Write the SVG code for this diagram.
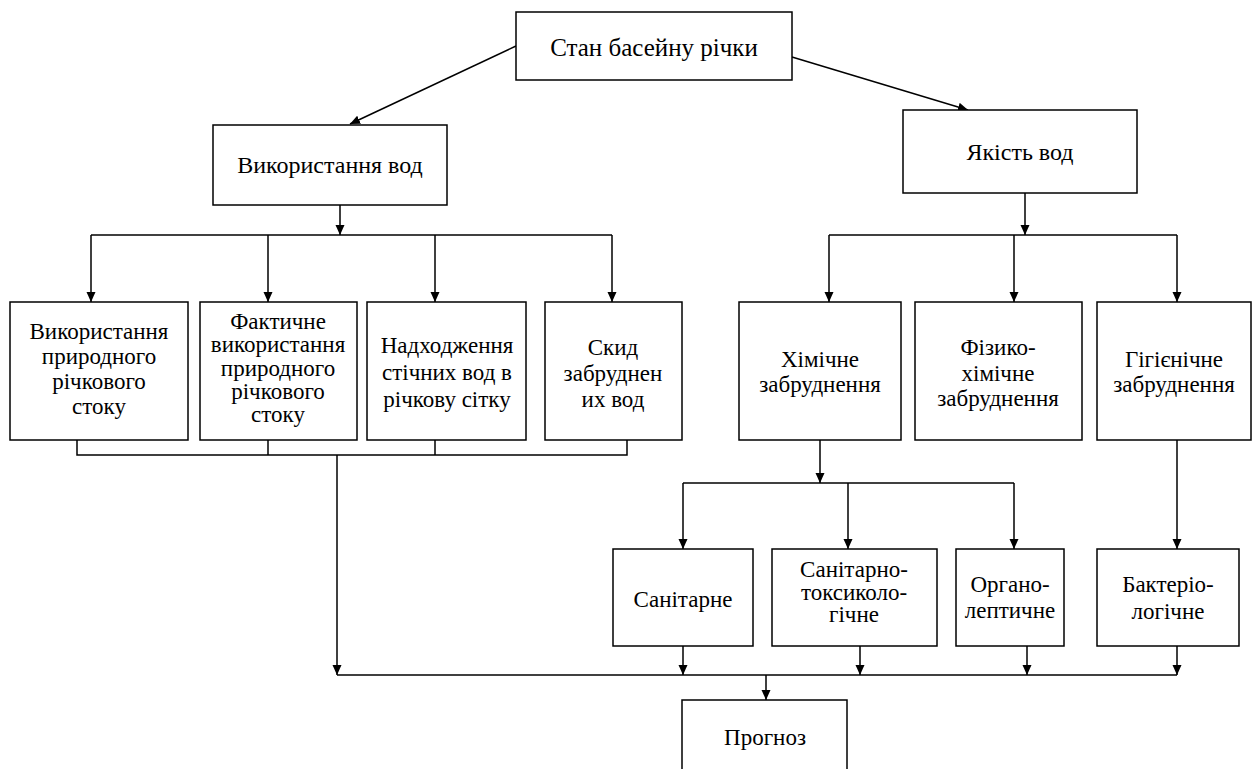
<svg xmlns="http://www.w3.org/2000/svg" width="1252" height="769" viewBox="0 0 1252 769">
<defs>
<marker id="ah" viewBox="0 0 10 10" refX="10" refY="5" markerWidth="10" markerHeight="10" markerUnits="userSpaceOnUse" orient="auto">
<path d="M0,0.5 L10,5 L0,9.5 z" fill="#000"/>
</marker>
</defs>
<rect width="1252" height="769" fill="#fff"/>
<g id="connectors" fill="none" stroke="#000" stroke-width="1.5">
<line x1="516" y1="46" x2="350" y2="124" marker-end="url(#ah)"/>
<line x1="792" y1="57" x2="968" y2="110" marker-end="url(#ah)"/>
<line x1="340" y1="205" x2="340" y2="235" marker-end="url(#ah)"/>
<line x1="91" y1="235" x2="612" y2="235"/>
<line x1="91" y1="235" x2="91" y2="302" marker-end="url(#ah)"/>
<line x1="268" y1="235" x2="268" y2="302" marker-end="url(#ah)"/>
<line x1="435" y1="235" x2="435" y2="302" marker-end="url(#ah)"/>
<line x1="612" y1="235" x2="612" y2="302" marker-end="url(#ah)"/>
<polyline points="77,440 77,455 627,455 627,440"/>
<line x1="268" y1="440" x2="268" y2="455"/>
<line x1="435" y1="440" x2="435" y2="455"/>
<line x1="337" y1="455" x2="337" y2="675" marker-end="url(#ah)"/>
<line x1="1025" y1="193" x2="1025" y2="235" marker-end="url(#ah)"/>
<line x1="829" y1="235" x2="1177" y2="235"/>
<line x1="829" y1="235" x2="829" y2="302" marker-end="url(#ah)"/>
<line x1="1014" y1="235" x2="1014" y2="302" marker-end="url(#ah)"/>
<line x1="1177" y1="235" x2="1177" y2="302" marker-end="url(#ah)"/>
<line x1="820" y1="440" x2="820" y2="483" marker-end="url(#ah)"/>
<line x1="683" y1="483" x2="1014" y2="483"/>
<line x1="683" y1="483" x2="683" y2="549" marker-end="url(#ah)"/>
<line x1="848" y1="483" x2="848" y2="549" marker-end="url(#ah)"/>
<line x1="1014" y1="483" x2="1014" y2="549" marker-end="url(#ah)"/>
<line x1="1177" y1="440" x2="1177" y2="549" marker-end="url(#ah)"/>
<line x1="683" y1="646" x2="683" y2="675" marker-end="url(#ah)"/>
<line x1="860" y1="646" x2="860" y2="675" marker-end="url(#ah)"/>
<line x1="1027" y1="646" x2="1027" y2="675" marker-end="url(#ah)"/>
<line x1="1177" y1="646" x2="1177" y2="675" marker-end="url(#ah)"/>
<line x1="337" y1="675" x2="1177" y2="675"/>
<line x1="766" y1="675" x2="766" y2="700" marker-end="url(#ah)"/>
</g>
<g id="nodes" fill="#fff" stroke="#000" stroke-width="1.5" font-family="Liberation Serif" font-size="23" text-anchor="middle">
<g id="n-root"><rect x="516" y="12" width="276" height="68"/><text fill="#000" stroke="none" font-size="25" x="654" y="56">Стан басейну річки</text></g>
<g id="n-use"><rect x="213" y="125" width="234" height="80"/><text fill="#000" stroke="none" font-size="24" x="330" y="173">Використання вод</text></g>
<g id="n-quality"><rect x="903" y="110" width="234" height="83"/><text fill="#000" stroke="none" font-size="24" x="1020" y="160">Якість вод</text></g>
<g id="n-b1"><rect x="10" y="302" width="178" height="138"/><text fill="#000" stroke="none" x="99" y="339">Використання<tspan x="99" dy="25">природного</tspan><tspan x="99" dy="25">річкового</tspan><tspan x="99" dy="25">стоку</tspan></text></g>
<g id="n-b2"><rect x="200" y="302" width="157" height="138"/><text fill="#000" stroke="none" x="278" y="329">Фактичне<tspan x="278" dy="23.3">використання</tspan><tspan x="278" dy="23.3">природного</tspan><tspan x="278" dy="23.3">річкового</tspan><tspan x="278" dy="23.3">стоку</tspan></text></g>
<g id="n-b3"><rect x="367" y="302" width="159" height="138"/><text fill="#000" stroke="none" x="447" y="353">Надходження<tspan x="447" dy="27">стічних вод в</tspan><tspan x="447" dy="27">річкову сітку</tspan></text></g>
<g id="n-b4"><rect x="545" y="302" width="137" height="138"/><text fill="#000" stroke="none" x="613" y="355">Скид<tspan x="613" dy="26">забруднен</tspan><tspan x="613" dy="26">их вод</tspan></text></g>
<g id="n-c1"><rect x="739" y="302" width="162" height="138"/><text fill="#000" stroke="none" x="820" y="367">Хімічне<tspan x="820" dy="25">забруднення</tspan></text></g>
<g id="n-c2"><rect x="915" y="302" width="167" height="138"/><text fill="#000" stroke="none" x="998" y="355">Фізико-<tspan x="998" dy="25.5">хімічне</tspan><tspan x="998" dy="25.5">забруднення</tspan></text></g>
<g id="n-c3"><rect x="1097" y="302" width="154" height="138"/><text fill="#000" stroke="none" x="1174" y="367">Гігієнічне<tspan x="1174" dy="24.5">забруднення</tspan></text></g>
<g id="n-d1"><rect x="613" y="549" width="140" height="97"/><text fill="#000" stroke="none" x="683" y="607">Санітарне</text></g>
<g id="n-d2"><rect x="772" y="549" width="165" height="97"/><text fill="#000" stroke="none" x="854" y="577">Санітарно-<tspan x="854" dy="22.5">токсиколо-</tspan><tspan x="854" dy="22.5">гічне</tspan></text></g>
<g id="n-d3"><rect x="956" y="549" width="108" height="97"/><text fill="#000" stroke="none" x="1010" y="592">Органо-<tspan x="1010" dy="26">лептичне</tspan></text></g>
<g id="n-d4"><rect x="1097" y="549" width="142" height="97"/><text fill="#000" stroke="none" x="1168" y="592">Бактеріо-<tspan x="1168" dy="27">логічне</tspan></text></g>
<g id="n-forecast"><rect x="682" y="700" width="165" height="80"/><text fill="#000" stroke="none" x="765" y="745">Прогноз</text></g>
</g>
</svg>
